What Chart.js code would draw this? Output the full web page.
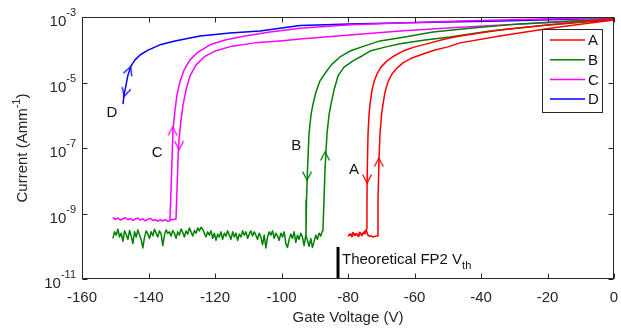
<!DOCTYPE html>
<html><head><meta charset="utf-8">
<script src="https://cdn.jsdelivr.net/npm/chart.js@4/dist/chart.umd.min.js"></script>
<style>html,body{margin:0;padding:0;background:#fff}</style>
</head><body>
<canvas id="c" width="621" height="330"></canvas>
<script>
// ---------- DATA (gate voltage in V, current as log10 of A/mm) ----------
const seriesNames = ['A', 'B', 'C', 'D'];
const seriesColors = ['#ff0000', '#008000', '#ff00ff', '#0000ff'];

// Device A: reverse sweep (0 V -> -80 V), forward sweep (-80 V -> 0 V)
const aRevV    = [0, -7.22, -19.25, -34.29, -46.32, -50.83, -56.24, -60.15, -63.46, -66.17, -68.27, -70.08, -71.28, -72.18, -72.78,
                  -73.38, -73.68, -73.98, -74.2, -74.29, -74.3,
                  -74.8, -75.3, -75.8, -76.3, -76.8, -77.3, -77.8, -78.3, -78.8, -79.3, -79.8];
const aRevLogI = [-3.06, -3.12, -3.24, -3.40, -3.58, -3.67, -3.82, -3.92, -4.04, -4.19, -4.34, -4.53, -4.74, -4.98, -5.23,
                  -5.66, -5.99, -6.57, -7.67, -8.59, -9.44,
                  -9.62, -9.58, -9.68, -9.60, -9.70, -9.63, -9.66, -9.60, -9.71, -9.64, -9.68];
const aFwdV    = [-80, -79.5, -79, -78.5, -78, -77.5, -77, -76.5, -76, -75.5, -75, -74.5, -74, -73.5, -73, -72.5, -72, -71.6,
                  -71.13, -70.98, -70.68, -70.38, -69.92, -69.47, -68.87, -67.97, -66.77, -65.26, -63.46, -60.75, -57.44,
                  -53.83, -50.23, -46.32, -34.29, -19.25, -7.22, 0];
const aFwdLogI = [-9.70, -9.62, -9.66, -9.58, -9.67, -9.61, -9.69, -9.57, -9.64, -9.60, -9.55, -9.50, -9.66, -9.70, -9.68, -9.72, -9.70, -9.69,
                  -9.69, -8.59, -7.37, -6.57, -5.99, -5.66, -5.29, -4.98, -4.74, -4.56, -4.40, -4.25, -4.13,
                  -4.01, -3.92, -3.79, -3.58, -3.34, -3.18, -3.09];

// Device B
const bRevV    = [0, -13.23, -28.27, -43.31, -54.44, -62.86, -70.38, -75.19, -79.40, -82.41, -84.81, -86.62, -88.42, -89.62,
                  -90.53, -91.13, -91.73, -92.18, -92.48, -92.63];
const bRevLogI = [-3.06, -3.12, -3.21, -3.34, -3.46, -3.61, -3.73, -3.89, -4.04, -4.22, -4.44, -4.68, -4.95, -5.29,
                  -5.66, -5.99, -6.57, -7.67, -8.59, -9.69];
const bFwdV    = [-150.7, -150.2, -149.7, -149.2, -148.7, -148.2, -147.7, -147.2, -146.7, -146.2,
                  -145.7, -145.2, -144.7, -144.2, -143.7, -143.2, -142.7, -142.2, -141.7, -141.2,
                  -140.7, -140.2, -139.7, -139.2, -138.7, -138.2, -137.7, -137.2, -136.7, -136.2,
                  -135.7, -135.2, -134.7, -134.2, -133.7, -133.2, -132.7, -132.2, -131.7, -131.2,
                  -130.7, -130.2, -129.7, -129.2, -128.7, -128.2, -127.7, -127.2, -126.7, -126.2,
                  -125.7, -125.2, -124.7, -124.2, -123.7, -123.2, -122.7, -122.2, -121.7, -121.2,
                  -120.7, -120.2, -119.7, -119.2, -118.7, -118.2, -117.7, -117.2, -116.7, -116.2,
                  -115.7, -115.2, -114.7, -114.2, -113.7, -113.2, -112.7, -112.2, -111.7, -111.2,
                  -110.7, -110.2, -109.7, -109.2, -108.7, -108.2, -107.7, -107.2, -106.7, -106.2,
                  -105.7, -105.2, -104.7, -104.2, -103.7, -103.2, -102.7, -102.2, -101.7, -101.2,
                  -100.7, -100.2, -99.7, -99.2, -98.7, -98.2, -97.7, -97.2, -96.7, -96.2,
                  -95.7, -95.2, -94.7, -94.2, -93.7, -93.2, -92.7, -92.2, -91.7, -91.2,
                  -90.7, -90.2, -89.7, -89.2, -88.7, -88.2, -87.7,
                  -87.52, -87.22, -86.92, -86.32, -85.71, -85.11, -84.21, -83.01, -81.20, -78.50, -75.79, -73.38,
                  -68.87, -64.36, -56.84, -49.32, -37.29, -22.26, -8.72, 0];
const bFwdLogI = [-9.76, -9.56, -9.66, -9.48, -9.72, -9.60, -9.85, -9.53, -9.64, -9.79,
                  -9.52, -9.69, -9.92, -9.56, -9.72, -9.50, -9.66, -9.80, -10.05, -9.72,
                  -9.53, -9.63, -9.76, -9.56, -9.68, -9.48, -9.60, -9.72, -9.53, -9.63,
                  -9.98, -9.66, -9.50, -9.61, -9.56, -9.69, -9.52, -9.60, -9.76, -9.56,
                  -9.66, -9.47, -9.58, -9.72, -9.53, -9.63, -9.44, -9.56, -9.69, -9.52,
                  -9.60, -9.44, -9.53, -9.42, -9.48, -9.60, -9.72, -9.56, -9.66, -9.53,
                  -9.76, -9.60, -9.82, -9.63, -9.72, -9.56, -9.79, -9.60, -9.69, -9.53,
                  -9.66, -9.79, -9.56, -9.72, -9.60, -9.82, -9.63, -9.72, -9.53, -9.66,
                  -9.56, -9.76, -9.63, -9.53, -9.69, -9.56, -9.66, -9.79, -9.60, -9.72,
                  -9.95, -9.66, -10.05, -9.72, -9.56, -9.66, -9.53, -9.76, -9.60, -9.69,
                  -9.82, -9.60, -9.72, -9.56, -9.92, -10.04, -9.79, -9.63, -9.76, -9.56,
                  -9.88, -9.66, -9.79, -9.60, -9.72, -9.98, -9.66, -9.82, -10.0, -9.76,
                  -10.04, -9.85, -9.66, -9.79, -9.60, -9.69, -9.53,
                  -9.44, -8.59, -7.67, -6.57, -5.99, -5.66, -5.23, -4.80, -4.53, -4.34, -4.19, -4.04,
                  -3.92, -3.82, -3.70, -3.61, -3.43, -3.27, -3.15, -3.09];

// Device C
const cFwdV    = [-150.7, -150, -149.2, -148.5, -147.7, -147, -146.2, -145.5, -144.7, -144, -143.2, -142.5,
                  -141.7, -141, -140.2, -139.5, -138.7, -138, -137.2, -136.5, -135.7, -135, -134.2, -133.6,
                  -133.53, -133.23, -132.93, -132.63, -132.03, -131.43, -130.53, -129.32, -127.52, -125.11, -121.50,
                  -116.99, -110.98, -103.46, -94.44, -79.40, -64.36, -46.32, -22.26, 0];
const cFwdLogI = [-9.12, -9.18, -9.14, -9.20, -9.16, -9.13, -9.19, -9.15, -9.21, -9.17, -9.14, -9.20,
                  -9.16, -9.22, -9.18, -9.15, -9.21, -9.19, -9.23, -9.20, -9.22, -9.19, -9.24, -9.22,
                  -9.17, -8.28, -7.37, -6.45, -5.84, -5.38, -4.98, -4.62, -4.31, -4.07, -3.85,
                  -3.70, -3.58, -3.46, -3.34, -3.24, -3.18, -3.12, -3.06, -3.03];
const cRevV    = [0, -22.26, -46.32, -64.36, -79.40, -94.44, -100.45, -107.97, -114.89, -120.00, -123.31, -125.71,
                  -127.52, -128.72, -129.62, -130.23, -130.83, -131.13, -131.43, -131.73, -133.5];
const cRevLogI = [-3.09, -3.18, -3.31, -3.43, -3.55, -3.67, -3.73, -3.79, -3.89, -4.04, -4.22, -4.47,
                  -4.80, -5.23, -5.69, -6.15, -6.76, -7.37, -8.28, -9.17, -9.20];

// Device D
const dV    = [-147.67, -147.37, -146.77, -146.17, -145.26, -144.06, -142.56, -140.15, -136.54, -132.03, -124.51,
               -115.49, -106.47, -94.44, -79.40, -58.35, -34.29, -16.24, 0];
const dLogI = [-5.66, -5.38, -5.08, -4.77, -4.50, -4.31, -4.16, -4.01, -3.85, -3.73, -3.58,
               -3.49, -3.43, -3.26, -3.21, -3.17, -3.12, -3.08, -3.03];

// Sweep-direction arrows (position on curve, rotation in degrees: 0 = up)
const arrowSeries = [0, 0, 1, 1, 2, 2, 3, 3];
const arrowV      = [-74.25, -70.75, -92.3, -86.9, -132.75, -130.8, -147.3, -145.4];
const arrowLogI   = [-8.07, -7.31, -7.98, -7.12, -6.36, -7.05, -5.42, -4.52];
const arrowRot    = [180, 0, 180, 0, 0, 180, 195, 20];

// Curve labels
const labelText = ['A', 'B', 'C', 'D'];
const labelV    = [-78.2, -95.6, -137.4, -151.0];
const labelLogI = [-7.67, -6.94, -7.15, -5.93];

// Theoretical threshold marker
const vthV = -83;
const vthTopLogI = -10.02;

// Axes
const xMin = -160, xMax = 0, xStep = 20;
const yTickExps = [-3, -5, -7, -9, -11];
const xTitle = 'Gate Voltage (V)';

// ---------- BUILD ----------
const pts = (V, L) => V.map((v, i) => ({ x: v, y: Math.pow(10, L[i]) }));
const curveSets = [
  [0, aRevV, aRevLogI], [0, aFwdV, aFwdLogI],
  [1, bRevV, bRevLogI], [1, bFwdV, bFwdLogI],
  [2, cFwdV, cFwdLogI], [2, cRevV, cRevLogI],
  [3, dV, dLogI]
];
const datasets = curveSets.map(([s, V, L]) => ({
  label: seriesNames[s], data: pts(V, L), showLine: true,
  borderColor: seriesColors[s], backgroundColor: seriesColors[s],
  borderWidth: 1.5, pointRadius: 0, tension: 0, fill: false, borderJoinStyle: 'round'
}));

function chevron(color) {
  const c = document.createElement('canvas'); c.width = 20; c.height = 20;
  const g = c.getContext('2d');
  g.strokeStyle = color; g.lineWidth = 1.3; g.lineJoin = 'miter';
  g.beginPath(); g.moveTo(5.5, 18.5); g.lineTo(10, 10); g.lineTo(14.5, 18.5); g.stroke();
  return c;
}
const chevrons = seriesColors.map(chevron);
datasets.push({
  label: 'arrows', data: arrowV.map((v, i) => ({ x: v, y: Math.pow(10, arrowLogI[i]) })),
  showLine: false, pointRadius: 10,
  pointStyle: arrowSeries.map(s => chevrons[s]),
  pointRotation: arrowRot
});
datasets.push({
  label: 'vth', data: [{ x: vthV, y: Math.pow(10, -11) }, { x: vthV, y: Math.pow(10, vthTopLogI) }],
  showLine: true, borderColor: '#000', borderWidth: 3, pointRadius: 0, borderCapStyle: 'butt'
});

const AX = '#262626';
const FONT = '"Liberation Sans", Arial, Helvetica, sans-serif';

const deco = {
  id: 'deco',
  afterDatasetsDraw(chart) {
    const { ctx, chartArea: ca, scales } = chart;
    const X = scales.x, Y = scales.y;
    ctx.save();
    // curve labels
    ctx.fillStyle = '#111'; ctx.font = '15px ' + FONT;
    ctx.textAlign = 'center'; ctx.textBaseline = 'middle';
    labelText.forEach((t, i) => ctx.fillText(t, X.getPixelForValue(labelV[i]), Y.getPixelForValue(Math.pow(10, labelLogI[i]))));
    // Vth text
    const vx = X.getPixelForValue(vthV), vy = Y.getPixelForValue(Math.pow(10, vthTopLogI));
    ctx.textAlign = 'left'; ctx.textBaseline = 'alphabetic';
    const main = 'Theoretical FP2 V';
    ctx.fillText(main, vx + 4, vy + 17);
    const w = ctx.measureText(main).width;
    ctx.font = '11px ' + FONT;
    ctx.fillText('th', vx + 4 + w, vy + 22);
    // frame
    ctx.strokeStyle = AX; ctx.lineWidth = 1;
    const L = Math.round(ca.left) + 0.5, R = Math.round(ca.right) - 0.5, T = Math.round(ca.top) + 0.5, B = Math.round(ca.bottom) - 0.5;
    ctx.strokeRect(L, T, R - L, B - T);
    ctx.beginPath();
    for (let v = xMin; v <= xMax; v += xStep) {
      const px = Math.round(X.getPixelForValue(v)) + 0.5;
      ctx.moveTo(px, B); ctx.lineTo(px, B - 5);
      ctx.moveTo(px, T); ctx.lineTo(px, T + 5);
    }
    yTickExps.forEach(e => {
      const py = Math.round(Y.getPixelForValue(Math.pow(10, e))) + 0.5;
      ctx.moveTo(L, py); ctx.lineTo(L + 5, py);
      ctx.moveTo(R, py); ctx.lineTo(R - 5, py);
    });
    ctx.stroke();
    // y tick labels
    ctx.fillStyle = AX;
    yTickExps.forEach(e => {
      const py = Y.getPixelForValue(Math.pow(10, e));
      const ex = String(e);
      ctx.font = '11px ' + FONT;
      const we = ctx.measureText(ex).width;
      ctx.textAlign = 'right'; ctx.textBaseline = 'alphabetic';
      ctx.fillText(ex, ca.left - 6, py - 1);
      ctx.font = '15px ' + FONT;
      ctx.fillText('10', ca.left - 6 - we, py + 9);
    });
    // y title
    ctx.save();
    ctx.translate(27, (ca.top + ca.bottom) / 2);
    ctx.rotate(-Math.PI / 2);
    const t1 = 'Current (Amm', t3 = ')';
    ctx.font = '11px ' + FONT; const w2 = ctx.measureText('-1').width;
    ctx.font = '15px ' + FONT; const w1 = ctx.measureText(t1).width, w3 = ctx.measureText(t3).width;
    const sx = -(w1 + w2 + w3) / 2;
    ctx.textAlign = 'left'; ctx.textBaseline = 'alphabetic';
    ctx.fillText(t1, sx, 0);
    ctx.font = '11px ' + FONT; ctx.fillText('-1', sx + w1, -7);
    ctx.font = '15px ' + FONT; ctx.fillText(t3, sx + w1 + w2, 0);
    ctx.restore();
    // legend
    const lx = Math.round(ca.right) - 72, ly = Math.round(ca.top) + 12, lw = 60, lh = 83;
    ctx.fillStyle = '#fff';
    ctx.fillRect(lx, ly, lw, lh);
    ctx.strokeStyle = AX; ctx.lineWidth = 1;
    ctx.strokeRect(lx + 0.5, ly + 0.5, lw, lh);
    seriesNames.forEach((n, i) => {
      const yy = ly + 11 + i * 19.7;
      ctx.strokeStyle = seriesColors[i]; ctx.lineWidth = 1.5;
      ctx.beginPath(); ctx.moveTo(lx + 8, yy); ctx.lineTo(lx + 43, yy); ctx.stroke();
      ctx.fillStyle = '#111'; ctx.font = '15px ' + FONT;
      ctx.textAlign = 'left'; ctx.textBaseline = 'middle';
      ctx.fillText(n, lx + 46, yy + 1);
    });
    ctx.restore();
  }
};

new Chart(document.getElementById('c'), {
  type: 'scatter',
  data: { datasets },
  options: {
    responsive: false, animation: false, devicePixelRatio: 1,
    layout: { autoPadding: false, padding: { top: 17, right: 7, bottom: 0, left: 0 } },
    plugins: { legend: { display: false }, tooltip: { enabled: false } },
    scales: {
      x: {
        type: 'linear', min: xMin, max: xMax,
        grid: { display: false, drawTicks: false }, border: { display: false },
        ticks: { stepSize: xStep, color: AX, font: { size: 15, family: FONT }, padding: 10, maxRotation: 0,
                 callback: v => String(v) },
        title: { display: true, text: xTitle, color: AX, font: { size: 15, family: FONT }, padding: { top: 2, bottom: 3 } },
        afterFit: s => { s.height = 51; s.paddingLeft = 0; s.paddingRight = 0; }
      },
      y: {
        type: 'logarithmic', min: 1e-11, max: 1e-3,
        grid: { display: false, drawTicks: false }, border: { display: false },
        ticks: { display: false },
        afterFit: s => { s.width = 82; s.paddingTop = 0; s.paddingBottom = 0; }
      }
    }
  },
  plugins: [deco]
});
</script>
</body></html>
